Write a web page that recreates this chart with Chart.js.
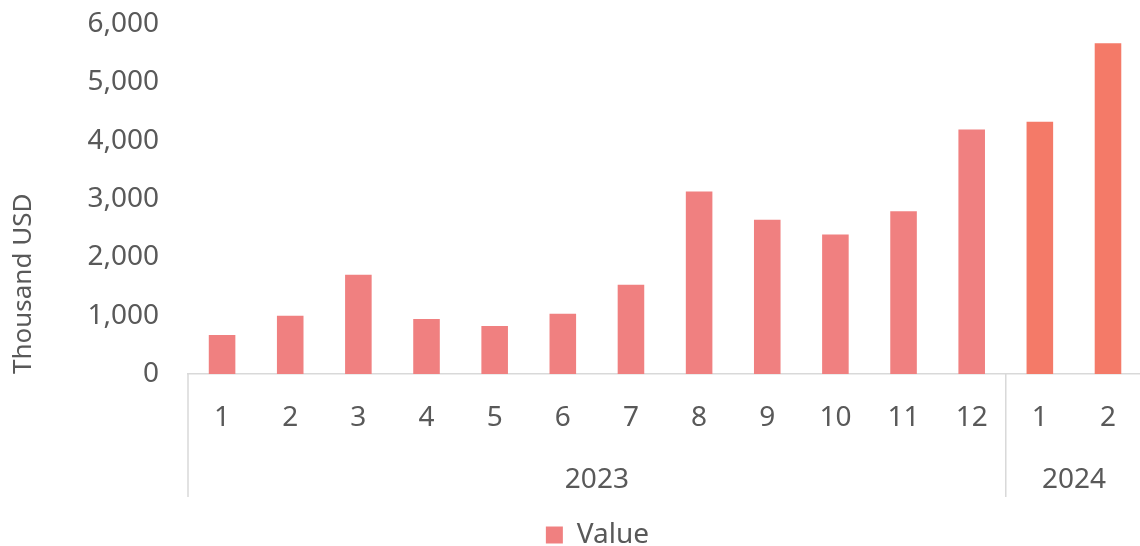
<!DOCTYPE html>
<html>
<head>
<meta charset="utf-8">
<title>Thousand USD - Value</title>
<script src="https://cdn.jsdelivr.net/npm/chart.js@4.4.1/dist/chart.umd.min.js"></script>
<style>
    html, body { margin: 0; padding: 0; background: #ffffff; overflow: hidden; }
    #wrap { width: 1143px; height: 546px; }
</style>
</head>
<body>
<div id="wrap"><canvas id="valueChart" width="1143" height="546"></canvas></div>
<script>
// Dados do gráfico
const monthLabels = ['1', '2', '3', '4', '5', '6', '7', '8', '9', '10', '11', '12', '1', '2'];
const yearLabels = ['2023', '2024'];
const monthsPerYear = [12, 2];
const values = [670, 1000, 1700, 945, 825, 1035, 1530, 3130, 2645, 2390, 2790, 4190, 4325, 5670];
const yearColors = ['#F08080', '#F47A68'];
const yTicks = [0, 1000, 2000, 3000, 4000, 5000, 6000];

const textColor = '#595959';
const lineColor = '#D9D9D9';
const fontFamily = "'Noto Sans', 'Open Sans', sans-serif";

// cor de cada barra conforme o ano
const barColors = [];
monthsPerYear.forEach((n, y) => {
    for (let i = 0; i < n; i++) barColors.push(yearColors[y]);
});

// centro e limites de cada grupo de ano (em índices de categoria)
const yearCenters = [];
const yearBounds = [-0.5];
let start = 0;
monthsPerYear.forEach(n => {
    yearCenters.push(start + (n - 1) / 2);
    start += n;
    yearBounds.push(start - 0.5);
});

// linhas verticais que separam os anos no eixo
const yearSeparators = {
    id: 'yearSeparators',
    afterDraw(chart) {
        const yearScale = chart.scales.year;
        const ctx = chart.ctx;
        ctx.save();
        ctx.strokeStyle = lineColor;
        ctx.lineWidth = 1.5;
        yearBounds.forEach(b => {
            const x = yearScale.getPixelForValue(b);
            ctx.beginPath();
            ctx.moveTo(x, chart.chartArea.bottom);
            ctx.lineTo(x, yearScale.bottom);
            ctx.stroke();
        });
        ctx.restore();
    }
};

new Chart(document.getElementById('valueChart'), {
    type: 'bar',
    data: {
        labels: monthLabels,
        datasets: [{
            label: 'Value',
            data: values,
            backgroundColor: barColors,
            borderWidth: 0,
            barPercentage: 0.39,
            categoryPercentage: 1
        }]
    },
    options: {
        responsive: false,
        animation: false,
        layout: { padding: { top: 24, left: 52, right: 0, bottom: -13 } },
        plugins: {
            legend: {
                position: 'bottom',
                labels: {
                    color: textColor,
                    font: { family: fontFamily, size: 28 },
                    boxWidth: 17,
                    boxHeight: 17,
                    padding: 24
                }
            },
            tooltip: { enabled: false }
        },
        scales: {
            x: {
                position: 'bottom',
                weight: 0,
                grid: { display: false, drawTicks: false },
                border: { display: true, color: lineColor, width: 1.5 },
                ticks: {
                    color: textColor,
                    font: { family: fontFamily, size: 28 },
                    padding: 27,
                    maxRotation: 0,
                    autoSkip: false
                },
                afterFit(scale) { scale.height = 80; }
            },
            year: {
                type: 'linear',
                position: 'bottom',
                weight: 1,
                offset: false,
                min: -0.5,
                max: monthLabels.length - 0.5,
                grid: { display: false, drawTicks: false },
                border: { display: false },
                afterBuildTicks(scale) {
                    scale.ticks = yearCenters.map(v => ({ value: v }));
                },
                ticks: {
                    color: textColor,
                    font: { family: fontFamily, size: 28 },
                    padding: 9,
                    maxRotation: 0,
                    autoSkip: false,
                    callback: (v, i) => yearLabels[i]
                },
                afterFit(scale) { scale.height = 43; }
            },
            y: {
                min: 0,
                max: 6000,
                grid: { display: false, drawTicks: false },
                border: { display: false },
                afterBuildTicks(scale) {
                    scale.ticks = yTicks.map(v => ({ value: v }));
                },
                ticks: {
                    color: textColor,
                    font: { family: fontFamily, size: 28 },
                    padding: 29,
                    callback: v => v.toLocaleString('en-US')
                },
                title: {
                    display: true,
                    text: 'Thousand USD',
                    align: 'start',
                    color: textColor,
                    font: { family: fontFamily, size: 26 },
                    padding: { top: -43.6, bottom: 0 }
                },
                afterFit(scale) {
                    scale.width = 136;
                    scale.paddingTop = 0;
                    scale.paddingBottom = 0;
                }
            }
        }
    },
    plugins: [yearSeparators]
});
</script>
</body>
</html>
